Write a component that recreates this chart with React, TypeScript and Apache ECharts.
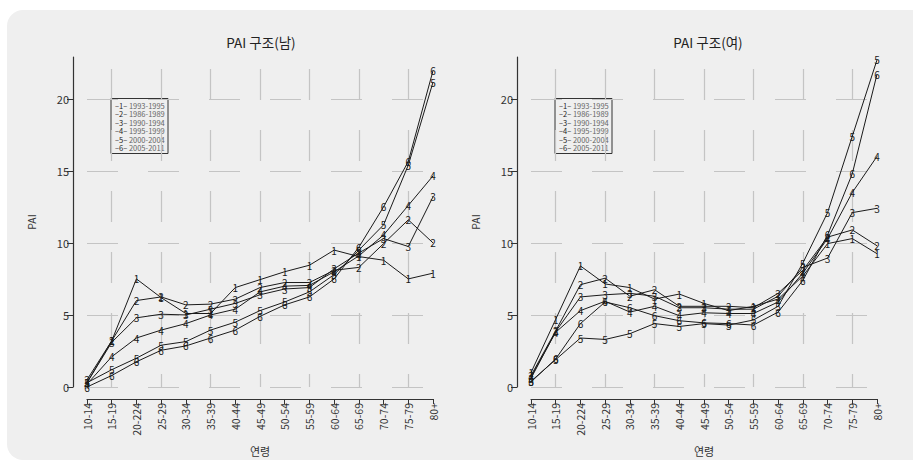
import React, { useEffect, useRef } from "react";
import * as echarts from "echarts";

const AGES = ["10-14", "15-19", "20-224", "25-29", "30-34", "35-39", "40-44", "45-49", "50-54", "55-59", "60-64", "65-69", "70-74", "75-79", "80+"];
const PERIODS = ["1993-1995", "1986-1989", "1990-1994", "1995-1999", "2000-2004", "2005-2011"];
const Y_TICKS = [0, 5, 10, 15, 20];

const M1 = [0.3, 3.2, 7.5, 6.2, 5.1, 5.1, 6.9, 7.45, 8.0, 8.45, 9.5, 9.05, 8.8, 7.5, 7.9];
const M2 = [0.5, 3.2, 6.0, 6.25, 5.7, 5.75, 6.1, 6.9, 7.25, 7.25, 8.1, 8.3, 9.95, 11.6, 10.0];
const M3 = [0.3, 3.1, 4.8, 5.05, 5.0, 5.4, 5.8, 6.4, 6.8, 6.9, 8.2, 9.3, 10.3, 9.75, 13.2];
const M4 = [0.2, 2.1, 3.4, 3.95, 4.4, 5.0, 5.4, 6.6, 7.0, 7.05, 8.0, 9.1, 10.55, 12.6, 14.65];
const M5 = [0.3, 1.2, 2.0, 2.9, 3.15, 3.95, 4.5, 5.3, 5.9, 6.6, 7.8, 9.5, 11.25, 15.4, 21.15];
const M6 = [0.0, 0.8, 1.75, 2.55, 2.85, 3.4, 3.95, 4.9, 5.7, 6.25, 7.5, 9.7, 12.5, 15.65, 21.95];

const F1 = [1.0, 4.7, 8.4, 7.15, 6.9, 6.1, 6.45, 5.8, 5.3, 5.6, 6.1, 7.7, 9.95, 10.3, 9.25];
const F2 = [0.8, 3.9, 7.1, 7.55, 6.3, 6.75, 5.6, 5.6, 5.6, 5.5, 6.5, 8.1, 10.4, 10.9, 9.8];
const F3 = [0.6, 3.85, 6.25, 6.4, 6.5, 6.3, 5.5, 5.5, 5.4, 5.4, 6.3, 8.3, 8.95, 12.1, 12.4];
const F4 = [0.7, 3.8, 5.3, 5.95, 5.2, 5.6, 4.95, 5.15, 5.1, 5.1, 5.9, 7.9, 10.3, 13.5, 16.0];
const F5 = [0.4, 1.9, 3.4, 3.3, 3.7, 4.4, 4.2, 4.4, 4.3, 4.65, 5.6, 8.6, 12.1, 17.4, 22.7];
const F6 = [0.35, 1.95, 4.4, 5.9, 5.5, 4.95, 4.6, 4.45, 4.4, 4.3, 5.2, 7.4, 10.55, 14.8, 21.7];

const MALE = [M1, M2, M3, M4, M5, M6];
const FEMALE = [F1, F2, F3, F4, F5, F6];

const FONT = "'Noto Sans CJK KR', 'Noto Sans', sans-serif";
const Y_MAX = 22.9;
const GRID_COLOR = "#c4c4c4";
const AXIS_COLOR = "#333";

export default function App() {
  const ref = useRef<HTMLDivElement>(null);
  useEffect(() => {
    if (!ref.current) return;
    const chart = echarts.init(ref.current, null, { renderer: "svg" });

    const panels = [
      { bgLeft: 73, dataLeft: 87, title: "PAI 구조(남)", titleX: 256, data: MALE, legendX: 111 },
      { bgLeft: 517, dataLeft: 531, title: "PAI 구조(여)", titleX: 703, data: FEMALE, legendX: 555 },
    ];

    const grid: any[] = [];
    const xAxis: any[] = [];
    const yAxis: any[] = [];
    const series: any[] = [];
    const title: any[] = [];
    const graphic: any[] = [
      {
        type: "rect",
        z: -100,
        shape: { x: 7, y: 10, width: 940, height: 450, r: 16 },
        style: { fill: "#efefef" },
        silent: true,
      },
    ];

    panels.forEach((p, pi) => {
      const gBg = pi * 2;
      const gData = pi * 2 + 1;
      grid.push({ left: p.bgLeft, top: 57, width: 374, height: 330 });
      grid.push({ left: p.dataLeft, top: 57, width: 346, height: 330 });

      xAxis.push({ gridIndex: gBg, type: "value", min: 0, max: 1, show: false });
      xAxis.push({
        gridIndex: gData,
        type: "category",
        data: AGES,
        boundaryGap: false,
        offset: 12,
        axisLine: { show: true, onZero: false, lineStyle: { color: AXIS_COLOR, width: 1.2 } },
        axisTick: { show: true, length: 5, interval: 0, lineStyle: { color: AXIS_COLOR } },
        axisLabel: { rotate: 90, interval: 0, fontSize: 10.5, color: "#333", margin: 4, fontFamily: FONT },
        splitLine: {
          show: true,
          interval: (idx: number) => idx % 2 === 1,
          lineStyle: { color: GRID_COLOR, width: 1.2, type: [31, 30], dashOffset: 49 },
        },
        name: "연령",
        nameLocation: "middle",
        nameGap: 46,
        nameTextStyle: { fontSize: 11, color: "#333", fontFamily: FONT },
      });

      yAxis.push({
        gridIndex: gBg,
        type: "value",
        min: 0,
        max: Y_MAX,
        axisLine: { show: true, onZero: false, lineStyle: { color: AXIS_COLOR, width: 1.2 } },
        axisTick: { show: true, length: 6, customValues: Y_TICKS, lineStyle: { color: AXIS_COLOR } },
        axisLabel: { customValues: Y_TICKS, fontSize: 11, color: "#333", margin: 4, fontFamily: FONT },
        splitLine: {
          show: true,
          lineStyle: { color: GRID_COLOR, width: 1.2, type: [31, 30], dashOffset: 47 },
        },
        name: "PAI",
        nameLocation: "middle",
        nameGap: 36,
        nameTextStyle: { fontSize: 10.5, color: "#333", fontFamily: FONT },
      });
      yAxis.push({ gridIndex: gData, type: "value", min: 0, max: Y_MAX, show: false });

      p.data.forEach((vals, si) => {
        series.push({
          type: "line",
          name: PERIODS[si],
          xAxisIndex: gData,
          yAxisIndex: gData,
          data: vals,
          symbol: "circle",
          symbolSize: 2,
          itemStyle: { color: "rgba(0,0,0,0)" },
          lineStyle: { color: "#1a1a1a", width: 1 },
          label: {
            show: true,
            position: "inside",
            formatter: String(si + 1),
            color: "#1a1a1a",
            textBorderWidth: 0,
            textBorderColor: "transparent",
            fontSize: 10,
            fontFamily: FONT,
          },
          emphasis: { disabled: true },
          silent: true,
          z: 5,
        });
      });

      title.push({
        text: p.title,
        left: p.titleX,
        top: 30,
        textAlign: "center",
        textStyle: { fontSize: 13.5, fontWeight: "normal", color: "#222", fontFamily: FONT },
      });

      const children: any[] = [
        {
          type: "rect",
          shape: { x: 0, y: 0, width: 57, height: 55 },
          style: { fill: "#efefef", stroke: "#333", lineWidth: 1 },
        },
      ];
      PERIODS.forEach((name, i) => {
        children.push({
          type: "text",
          x: 4,
          y: 6.8 + i * 8.5,
          style: {
            text: `{k|–${i + 1}–} {t|${name}}`,
            verticalAlign: "middle",
            fontFamily: FONT,
            fontSize: 7.5,
            rich: {
              k: { fill: "#222", fontSize: 7.5, fontFamily: FONT },
              t: { fill: "#666", fontSize: 7.5, fontFamily: FONT },
            },
          },
        });
      });
      graphic.push({ type: "group", x: p.legendX, y: 98.5, z: 100, silent: true, children });
    });

    chart.setOption({
      animation: false,
      backgroundColor: "#ffffff",
      textStyle: { fontFamily: FONT },
      title,
      grid,
      xAxis,
      yAxis,
      series,
      graphic,
    });
    return () => chart.dispose();
  }, []);
  return <div ref={ref} style={{ position: "fixed", left: 0, top: 0, width: 913, height: 465 }} />;
}
